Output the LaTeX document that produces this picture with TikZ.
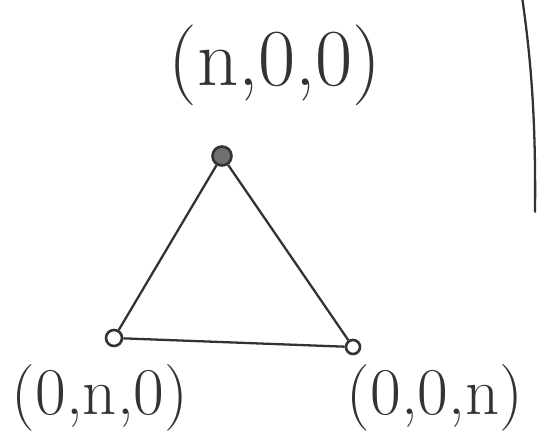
\documentclass[tikz,border=0pt]{standalone}
\usepackage{tikz}
\usetikzlibrary{positioning,calc}
\definecolor{PenGray}{RGB}{51,51,51}

\begin{document}
\begin{tikzpicture}[x=1cm, y=1cm, every node/.style={text=PenGray},
    vertex/.style={draw=PenGray, circle, line width=1.5pt, inner sep=0pt},
    edge/.style={draw=PenGray, line width=1.3pt},
    coordlabel/.style={font=\fontsize{46}{54}\selectfont, inner sep=0pt},
    smalllabel/.style={font=\fontsize{38}{46}\selectfont, inner sep=0pt}]
  \useasboundingbox (0,0) rectangle (10.76,-8.86);
  % corners of the triangle
  \node[vertex, minimum size=0.38cm, fill=PenGray!70] (top) at (4.44,-3.12) {};
  \node[vertex, minimum size=0.32cm] (left) at (2.28,-6.76) {};
  \node[vertex, minimum size=0.28cm] (right) at (7.06,-6.94) {};
  \draw[edge] (top) -- (left);
  \draw[edge] (left) -- (right);
  \draw[edge] (right) -- (top);
  % labels
  \node[coordlabel] (toplabel) at (5.5,-1.3) {(n,0,0)};
  \node[smalllabel] (leftlabel) at (2.0,-7.95) {(0,n,0)};
  \node[smalllabel] (rightlabel) at (8.7,-7.95) {(0,0,n)};
  % divider on the right
  \coordinate (divtop) at (10.45,0);
  \coordinate (divbot) at (10.7,-4.25);
  \draw[edge] (divtop) .. controls (10.62,-1.2) and (10.72,-2.4) .. (divbot);
\end{tikzpicture}
\end{document}
